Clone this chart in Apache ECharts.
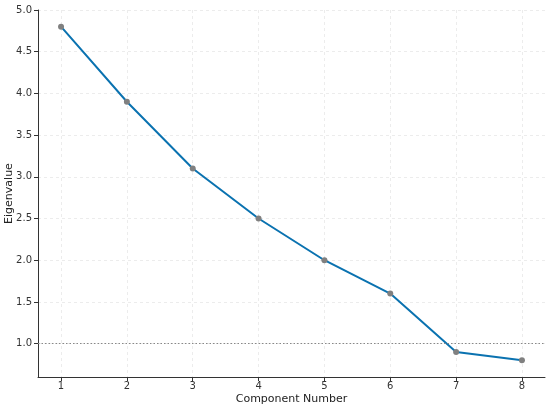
<!DOCTYPE html>
<html>
<head>
<meta charset="utf-8">
<script src="https://cdn.jsdelivr.net/npm/echarts@6/dist/echarts.min.js"></script>
<style>
  html, body { margin: 0; padding: 0; background: #fff; }
  #chart { width: 550px; height: 411px; }
</style>
</head>
<body>
<div id="chart"></div>
<script>
// scree plot data
const components = [1, 2, 3, 4, 5, 6, 7, 8];
const eigenvalues = [4.8, 3.9, 3.1, 2.5, 2.0, 1.6, 0.9, 0.8];
const yTicks = [1.0, 1.5, 2.0, 2.5, 3.0, 3.5, 4.0, 4.5, 5.0];
const threshold = 1.0;

const font = 'DejaVu Sans';
const gridStyle = { color: '#e8e8e8', type: [3, 3], width: 0.8 };

let myChart = echarts.init(document.getElementById('chart'));
myChart.setOption({
  animation: false,
  textStyle: { fontFamily: font },
  grid: { left: 38, right: 5, top: 10, bottom: 34, outerBoundsMode: 'none', containLabel: false },
  xAxis: {
    type: 'value',
    min: 0.65,
    max: 8.35,
    name: 'Component Number',
    nameLocation: 'middle',
    nameGap: 17,
    nameMoveOverlap: false,
    nameTextStyle: { fontFamily: font, fontSize: 11, color: '#222' },
    axisLine: { lineStyle: { color: '#333', width: 1 } },
    axisTick: { show: true, length: 4, lineStyle: { color: '#333' }, customValues: components },
    axisLabel: { fontFamily: font, fontSize: 10, color: '#333', margin: 4, customValues: components },
    splitLine: { show: true, lineStyle: gridStyle }
  },
  yAxis: {
    type: 'value',
    min: 0.6,
    max: 5.0,
    name: 'Eigenvalue',
    nameLocation: 'middle',
    nameGap: 23,
    nameMoveOverlap: false,
    nameRotate: 90,
    nameTextStyle: { fontFamily: font, fontSize: 11, color: '#222' },
    axisLine: { show: true, lineStyle: { color: '#333', width: 1 } },
    axisTick: { show: true, length: 4, lineStyle: { color: '#333' }, customValues: yTicks },
    axisLabel: {
      fontFamily: font, fontSize: 10, color: '#333', margin: 6,
      customValues: yTicks,
      formatter: (v) => v.toFixed(1)
    },
    splitLine: { show: true, lineStyle: gridStyle }
  },
  series: [{
    type: 'line',
    data: components.map((c, i) => [c, eigenvalues[i]]),
    symbol: 'circle',
    symbolSize: 6,
    lineStyle: { color: '#0a72b0', width: 2 },
    itemStyle: { color: '#808080' },
    z: 3,
    markLine: {
      silent: true,
      symbol: 'none',
      label: { show: false },
      lineStyle: { color: '#888', type: [1.5, 2], width: 1 },
      data: [{ yAxis: threshold }]
    }
  }]
});
</script>
</body>
</html>
